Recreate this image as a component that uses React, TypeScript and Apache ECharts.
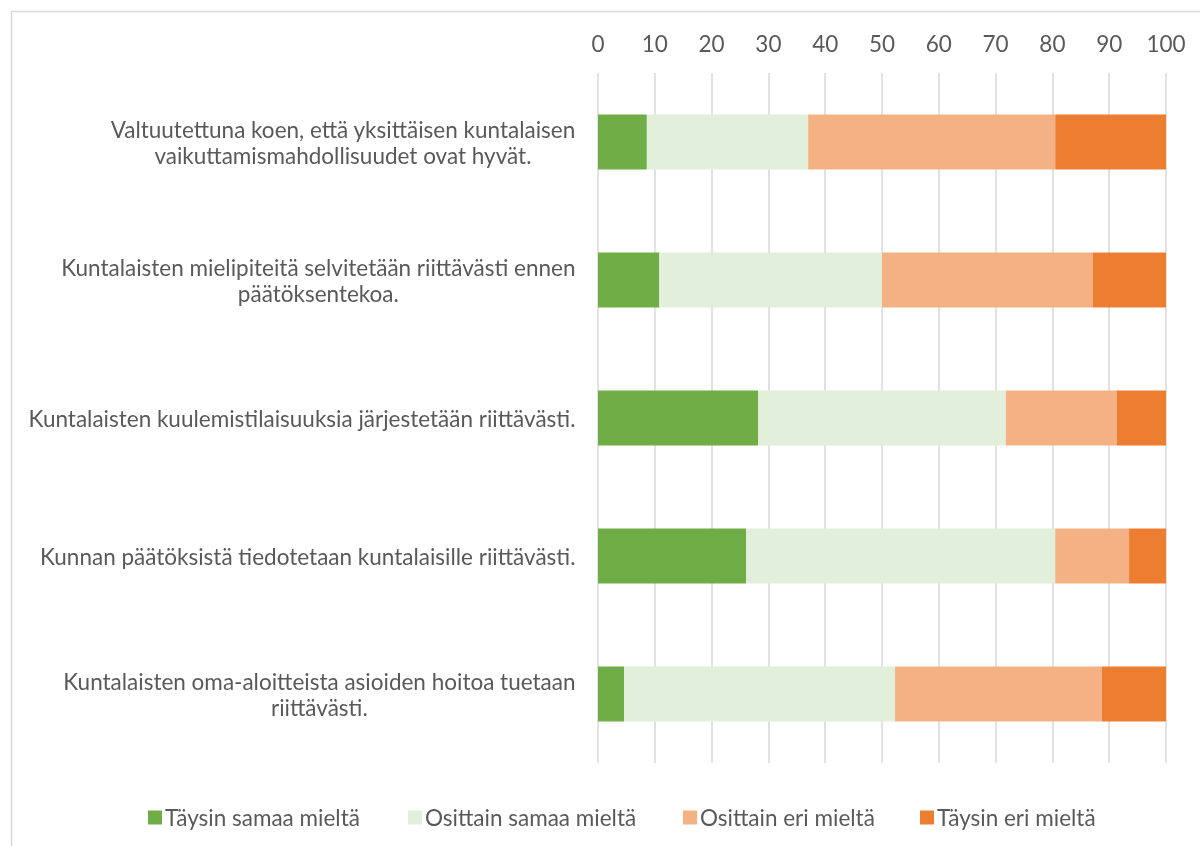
import React, { useEffect, useRef } from "react";
import * as echarts from "echarts";

const categories = [
  "Valtuutettuna koen, että yksittäisen kuntalaisen\nvaikuttamismahdollisuudet ovat hyvät.",
  "Kuntalaisten mielipiteitä selvitetään riittävästi ennen\npäätöksentekoa.",
  "Kuntalaisten kuulemistilaisuuksia järjestetään riittävästi.",
  "Kunnan päätöksistä tiedotetaan kuntalaisille riittävästi.",
  "Kuntalaisten oma-aloitteista asioiden hoitoa tuetaan\nriittävästi.",
];
const seriesNames = ["Täysin samaa mieltä", "Osittain samaa mieltä", "Osittain eri mieltä", "Täysin eri mieltä"];
const taysinSamaa = [8.6, 10.8, 28.2, 26.1, 4.6];
const osittainSamaa = [28.4, 39.2, 43.6, 54.4, 47.7];
const osittainEri = [43.5, 37.1, 19.5, 13.0, 36.4];
const taysinEri = [19.5, 12.9, 8.7, 6.5, 11.3];
const colors = ["#70AD47", "#E2EFDA", "#F4B183", "#ED7D31"];
const xTicks = { min: 0, max: 100, interval: 10 };

const FONT = "Lato";
const FS = 22.5;
const TXT = "#595959";
const legendLefts = [143, 403, 678, 915];

export default function App() {
  const ref = useRef<HTMLDivElement>(null);
  useEffect(() => {
    if (!ref.current) return;
    const chart = echarts.init(ref.current, undefined, { renderer: "svg" });
    const ctx = document.createElement("canvas").getContext("2d")!;
    ctx.font = `${FS}px ${FONT}`;
    const rich: Record<string, any> = {};
    categories.forEach((c, i) => {
      const lines = c.split("\n");
      const w = Math.max(...lines.map((l) => ctx.measureText(l).width)) + 1;
      rich["r" + i] = { width: w, align: "center", fontSize: FS, fontFamily: FONT, color: TXT, lineHeight: 26 };
    });
    const data = [taysinSamaa, osittainSamaa, osittainEri, taysinEri];
    chart.setOption({
      animation: false,
      textStyle: { fontFamily: FONT },
      graphic: [
        {
          type: "rect",
          shape: { x: 11.5, y: 11.5, width: 1300, height: 1000 },
          style: { fill: "none", stroke: "#D9D9D9", lineWidth: 1.5 },
          silent: true,
        },
      ],
      grid: { left: 598, right: 34, top: 73, bottom: 83 },
      legend: seriesNames.map((n, i) => ({
        data: [n],
        left: legendLefts[i],
        top: 801,
        itemWidth: 14,
        itemHeight: 14,
        icon: "rect",
        textStyle: { fontSize: FS, color: TXT, fontFamily: FONT, padding: [0, 0, 0, -2] },
      })),
      xAxis: {
        type: "value",
        position: "top",
        min: xTicks.min,
        max: xTicks.max,
        interval: xTicks.interval,
        axisLine: { show: false },
        axisTick: { show: false },
        axisLabel: { fontSize: FS, color: TXT, margin: 18, fontFamily: FONT },
        splitLine: { lineStyle: { color: "#D9D9D9", width: 1.5 } },
      },
      yAxis: {
        type: "category",
        inverse: true,
        data: categories,
        axisLine: { show: false },
        axisTick: { show: false },
        axisLabel: {
          margin: 22,
          formatter: (v: string) => {
            const i = categories.indexOf(v);
            return v
              .split("\n")
              .map((l) => `{r${i}|${l}}`)
              .join("\n");
          },
          rich,
        },
      },
      series: seriesNames.map((n, i) => ({
        name: n,
        type: "bar",
        stack: "total",
        barWidth: 55,
        itemStyle: { color: colors[i] },
        data: data[i],
      })),
    });
    return () => chart.dispose();
  }, []);
  return <div ref={ref} style={{ position: "fixed", left: 0, top: 0, width: 1200, height: 846 }} />;
}
